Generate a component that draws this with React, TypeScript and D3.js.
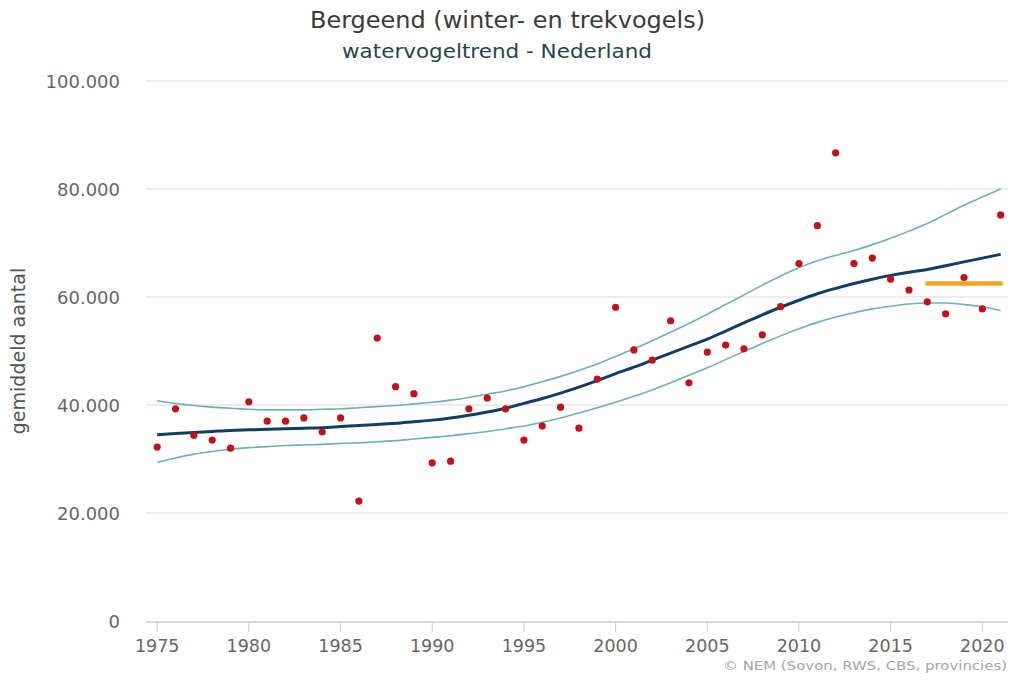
import React, { useEffect, useRef } from 'react';
import * as d3 from 'd3';

// jaren 1975 - 2021
const years = d3.range(1975, 2022);

// getelde gemiddelden (rode punten)
const counts = [
  32200, 39300, 34400, 33500, 32000, 40600, 37000, 37000, 37600, 35000,
  37600, 22200, 52400, 43400, 42100, 29300, 29600, 39300, 41300, 39300,
  33500, 36100, 39600, 35700, 44800, 58100, 50200, 48300, 55600, 44100,
  49800, 51100, 50400, 53000, 58200, 66200, 73200, 86700, 66200, 67200,
  63300, 61300, 59100, 56900, 63600, 57800, 75200,
];

// trendlijn
const trend = [
  34500, 34700, 34900, 35100, 35300, 35400, 35500, 35600, 35700, 35800,
  36000, 36200, 36400, 36600, 36900, 37200, 37600, 38100, 38700, 39400,
  40300, 41200, 42200, 43300, 44500, 45800, 47000, 48300, 49600, 50900,
  52200, 53700, 55200, 56700, 58100, 59400, 60600, 61600, 62500, 63300,
  64000, 64600, 65100, 65800, 66500, 67200, 67900,
];

// bovengrens betrouwbaarheidsinterval
const upper = [
  40800, 40300, 39900, 39600, 39400, 39200, 39100, 39100, 39100, 39200,
  39300, 39500, 39700, 39900, 40200, 40500, 40900, 41400, 42000, 42600,
  43400, 44300, 45300, 46400, 47600, 49000, 50400, 51900, 53500, 55100,
  56800, 58600, 60400, 62200, 63900, 65400, 66700, 67700, 68600, 69700,
  70900, 72200, 73600, 75300, 77000, 78500, 80000,
];

// ondergrens betrouwbaarheidsinterval
const lower = [
  29400, 30200, 30900, 31400, 31800, 32100, 32300, 32500, 32600, 32700,
  32900, 33000, 33200, 33400, 33700, 34000, 34300, 34700, 35100, 35600,
  36100, 36800, 37600, 38500, 39500, 40500, 41600, 42800, 44100, 45500,
  46900, 48400, 49900, 51400, 52800, 54100, 55300, 56300, 57100, 57800,
  58300, 58700, 58900, 58900, 58600, 58200, 57500,
];

// gemiddelde laatste vijf jaar (oranje lijn)
const recentYears = [2017, 2021];
const recentMean = 62500;

const yTicks = [0, 20000, 40000, 60000, 80000, 100000];
const xTicks = [1975, 1980, 1985, 1990, 1995, 2000, 2005, 2010, 2015, 2020];

const W = 1011;
const H = 680;
const FONT = '"DejaVu Sans", Verdana, sans-serif';

const App = () => {
  const svgRef = useRef<SVGSVGElement>(null);

  useEffect(() => {
    const svg = d3.select(svgRef.current);
    svg.selectAll('*').remove();

    const x = d3.scaleLinear().domain([1974.5, 2021.4]).range([148, 1008]);
    const y = d3.scaleLinear().domain([0, 100000]).range([621, 81]);
    const fmt = (v: number) => d3.format(',')(v).replace(/,/g, '.');

    // titels
    svg.append('text')
      .attr('x', 310).attr('y', 28)
      .attr('textLength', 395)
      .attr('lengthAdjust', 'spacingAndGlyphs')
      .style('font-family', FONT)
      .style('font-size', '23px')
      .style('fill', '#3a3a3a')
      .text('Bergeend (winter- en trekvogels)');
    svg.append('text')
      .attr('x', 342).attr('y', 58)
      .attr('textLength', 310)
      .attr('lengthAdjust', 'spacingAndGlyphs')
      .style('font-family', FONT)
      .style('font-size', '19.5px')
      .style('fill', '#1f474b')
      .text('watervogeltrend - Nederland');

    // rasterlijnen + y labels
    const grid = svg.append('g');
    grid.selectAll('line')
      .data(yTicks.filter(d => d > 0))
      .join('line')
      .attr('x1', 146).attr('x2', 1008)
      .attr('y1', d => y(d)).attr('y2', d => y(d))
      .attr('stroke', '#e6e6e6').attr('stroke-width', 1.5);
    grid.selectAll('text')
      .data(yTicks)
      .join('text')
      .attr('x', 120).attr('y', d => y(d) + 6.5)
      .attr('text-anchor', 'end')
      .style('font-family', FONT)
      .style('font-size', '18px')
      .style('fill', '#666')
      .text(d => fmt(d));

    // x-as
    const xa = svg.append('g');
    xa.append('line')
      .attr('x1', 146).attr('x2', 1008)
      .attr('y1', 622).attr('y2', 622)
      .attr('stroke', '#ccc').attr('stroke-width', 1.5);
    xa.selectAll('line.tick')
      .data(xTicks)
      .join('line')
      .attr('class', 'tick')
      .attr('x1', d => x(d)).attr('x2', d => x(d))
      .attr('y1', 622).attr('y2', 632)
      .attr('stroke', '#ccc');
    xa.selectAll('text')
      .data(xTicks)
      .join('text')
      .attr('x', d => x(d)).attr('y', 652)
      .attr('text-anchor', 'middle')
      .style('font-family', FONT)
      .style('font-size', '17.5px')
      .style('fill', '#666')
      .text(d => d);

    // y-as titel
    svg.append('text')
      .attr('transform', 'translate(25,351) rotate(-90)')
      .attr('text-anchor', 'middle')
      .style('font-family', FONT)
      .style('font-size', '19px')
      .style('fill', '#555')
      .text('gemiddeld aantal');

    // bronvermelding
    svg.append('text')
      .attr('x', 723).attr('y', 670)
      .attr('textLength', 284)
      .attr('lengthAdjust', 'spacingAndGlyphs')
      .style('font-family', FONT)
      .style('font-size', '13px')
      .style('fill', '#a6a6a6')
      .text('© NEM (Sovon, RWS, CBS, provincies)');

    const line = (vals: number[]) =>
      d3.line<number>()
        .x((_, i) => x(years[i]))
        .y(d => y(d))
        .curve(d3.curveMonotoneX)(vals);

    // betrouwbaarheidsband
    [upper, lower].forEach(vals => {
      svg.append('path')
        .attr('d', line(vals))
        .attr('fill', 'none')
        .attr('stroke', '#6fafb7')
        .attr('stroke-width', 1.6);
    });

    // trend
    svg.append('path')
      .attr('d', line(trend))
      .attr('fill', 'none')
      .attr('stroke', '#123e63')
      .attr('stroke-width', 3);

    // punten
    svg.append('g').selectAll('circle')
      .data(counts)
      .join('circle')
      .attr('cx', (_, i) => x(years[i]))
      .attr('cy', d => y(d))
      .attr('r', 3.6)
      .attr('fill', '#c1121c');

    // gemiddelde laatste jaren
    svg.append('line')
      .attr('x1', x(recentYears[0])).attr('x2', x(recentYears[1]))
      .attr('y1', y(recentMean)).attr('y2', y(recentMean))
      .attr('stroke', '#f4a21d')
      .attr('stroke-width', 4.5)
      .attr('stroke-linecap', 'round');
  }, []);

  return (
    <div style={{ position: 'fixed', top: 0, left: 0, width: W, height: H, background: '#fff', overflow: 'hidden' }}>
      <svg ref={svgRef} width={W} height={H} style={{ display: 'block' }} />
    </div>
  );
};

export default App;
